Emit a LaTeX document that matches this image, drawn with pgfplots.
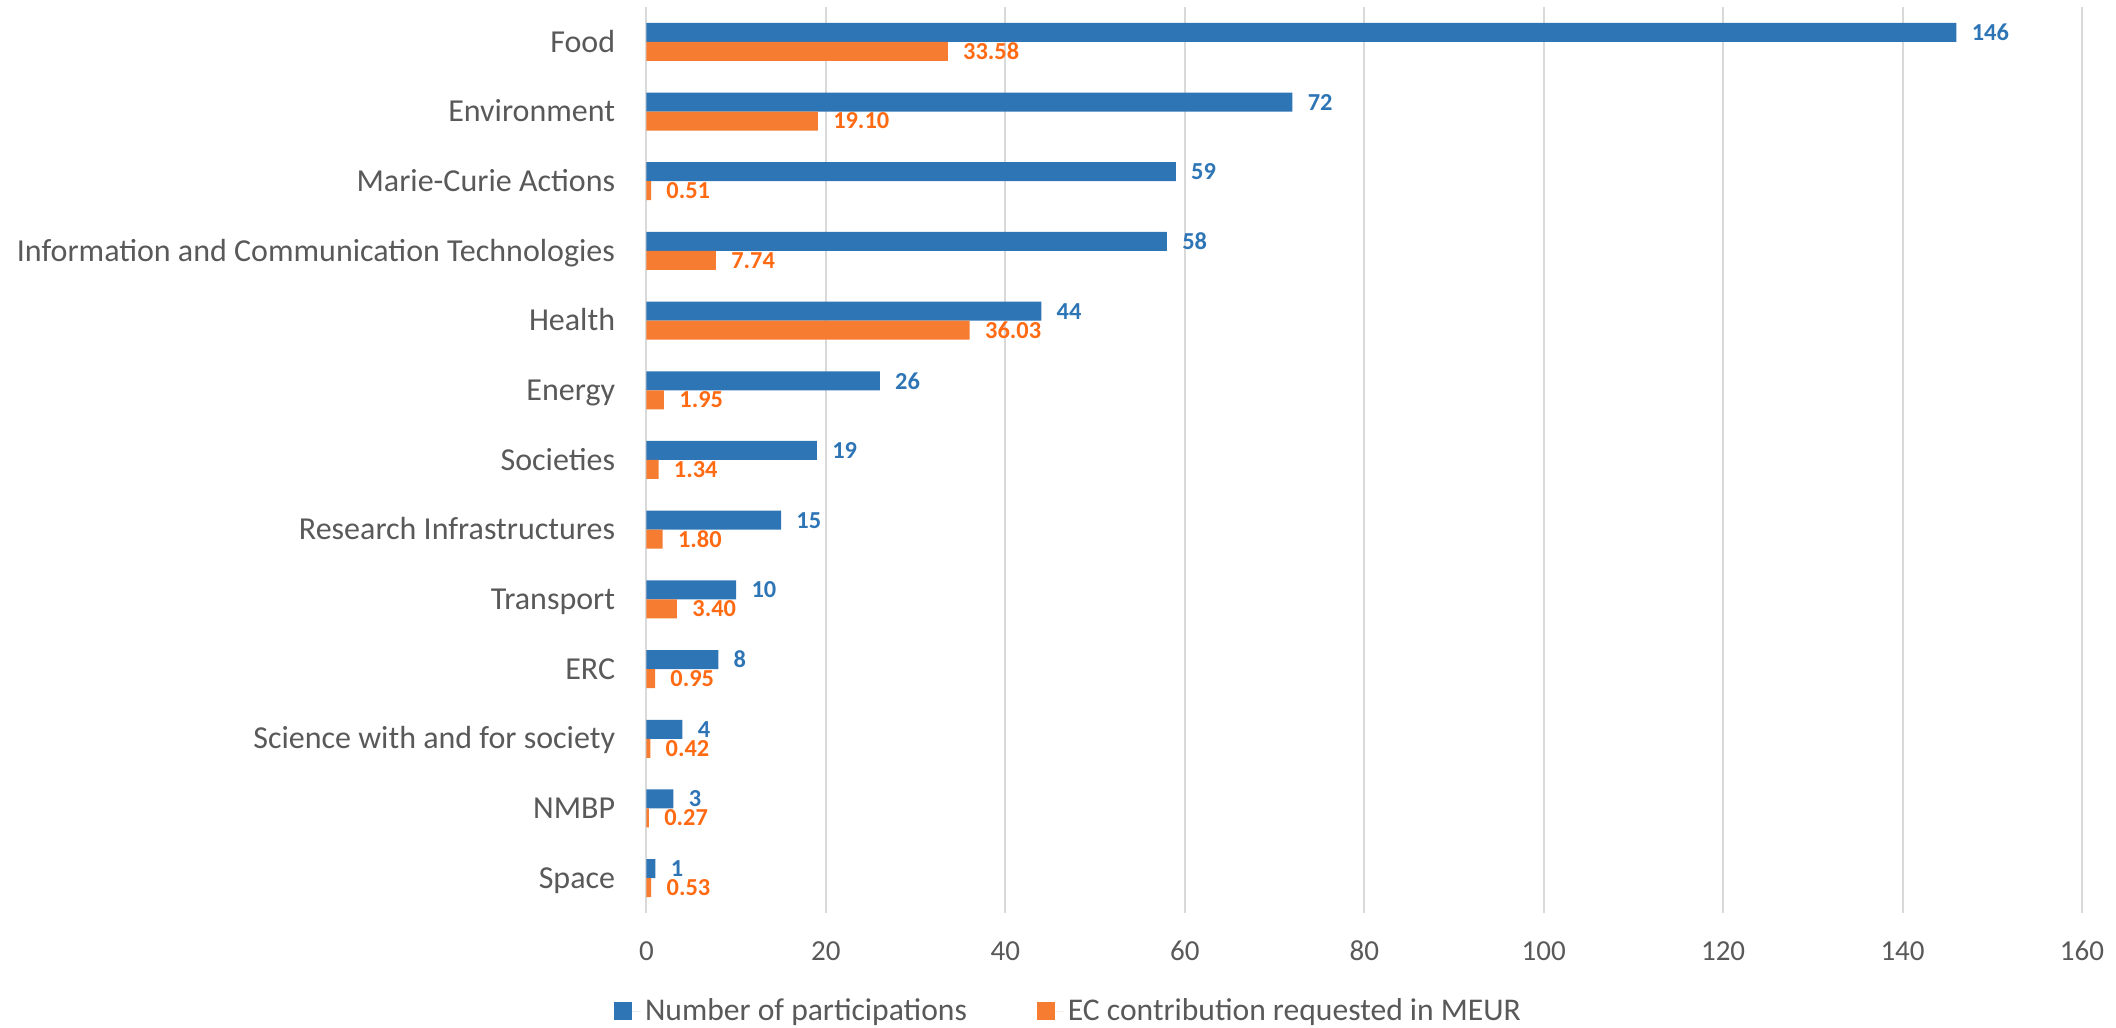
\documentclass[border=0pt]{standalone}
\usepackage{fontspec}
\setmainfont{Carlito}
\usepackage{pgfplots}
\usepackage{pgfplotstable}
\pgfplotsset{compat=1.18}

\definecolor{barblue}{HTML}{2E75B6}
\definecolor{barorange}{HTML}{F57C31}
\definecolor{lblorange}{HTML}{FF6A13}
\definecolor{txtgray}{HTML}{595959}
\definecolor{gridgray}{HTML}{D9D9D9}

% idx 12 = top row (Food)
\pgfplotstableread{
idx part ec
12 146 33.58
11 72 19.10
10 59 0.51
9 58 7.74
8 44 36.03
7 26 1.95
6 19 1.34
5 15 1.80
4 10 3.40
3 8 0.95
2 4 0.42
1 3 0.27
0 1 0.53
}\datatable

\begin{document}
\begin{tikzpicture}
\begin{axis}[
    at={(0,0)}, anchor=south west,
    scale only axis,
    width=717.75pt, height=453pt,
    xmin=0, xmax=160,
    ymin=-0.5, ymax=12.5,
    xtick={0,20,...,160},
    ytick={0,...,12},
    yticklabels={Space,NMBP,Science with and for society,ERC,Transport,Research Infrastructures,Societies,Energy,Health,Information and Communication Technologies,Marie-Curie Actions,Environment,Food},
    xmajorgrids,
    major grid style={gridgray, line width=1pt},
    axis line style={draw=none},
    major tick length=0pt,
    /pgf/number format/assume math mode=true,
    xticklabel style={font=\fontsize{14.5}{17}\selectfont, text=txtgray, anchor=base, inner sep=0pt, yshift=-23.8pt},
    yticklabel style={font=\fontsize{16}{19}\selectfont, text=txtgray, anchor=base east, inner sep=0pt, xshift=-15.5pt, yshift=-5.1pt},
    clip=false,
    legend columns=2,
    legend style={at={(0.2947,-0.1082)}, anchor=center, draw=none,
        font=\fontsize{15.8}{18}\selectfont, text=txtgray,
        /tikz/every even column/.append style={column sep=33pt}},
]
\addplot[xbar, bar width=9.5pt, bar shift=4.75pt, fill=barblue, draw=none,
    point meta=x,
    nodes near coords={\pgfmathprintnumber[assume math mode=true]{\pgfplotspointmeta}},
    every node near coord/.append style={anchor=west, inner sep=0pt, xshift=7.5pt, yshift=4.75pt,
        font=\bfseries\fontsize{12.2}{14}\selectfont, text=barblue},
    legend image code/.code={\fill[barblue] (0pt,-4.5pt) rectangle (9pt,4.5pt); \path (0pt,0pt) -- (13.5pt,0pt);}]
    table[x=part, y=idx] {\datatable};
\addlegendentry{Number of participations}
\addplot[xbar, bar width=9.5pt, bar shift=-4.75pt, fill=barorange, draw=none,
    point meta=x,
    nodes near coords={\pgfmathprintnumber[fixed, fixed zerofill, precision=2, assume math mode=true]{\pgfplotspointmeta}},
    every node near coord/.append style={anchor=west, inner sep=0pt, xshift=7.5pt, yshift=-4.75pt,
        font=\bfseries\fontsize{12.2}{14}\selectfont, text=lblorange},
    legend image code/.code={\fill[barorange] (0pt,-4.5pt) rectangle (9pt,4.5pt); \path (0pt,0pt) -- (13.5pt,0pt);}]
    table[x=ec, y=idx] {\datatable};
\addlegendentry{EC contribution requested in MEUR}
\end{axis}
\pgfresetboundingbox
\useasboundingbox (-323.25pt,-57.5pt) rectangle (734.75pt,456.5pt);
\end{tikzpicture}
\end{document}
